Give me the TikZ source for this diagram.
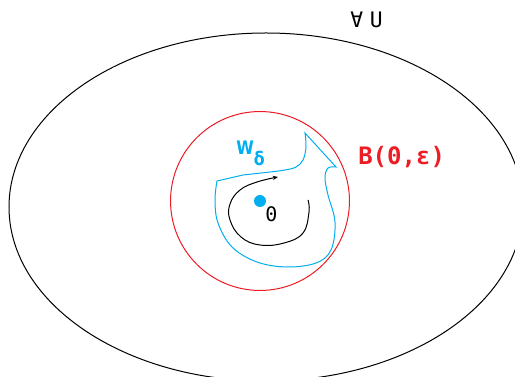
\documentclass[tikz,border=0pt]{standalone}
\usepackage{fontspec}
\usepackage{tikz}
\usetikzlibrary{arrows.meta, positioning}
\setmonofont{DejaVu Sans Mono}
\setsansfont{DejaVu Sans}
\newfontfamily\condsans[FakeStretch=0.85]{DejaVu Sans}
\definecolor{ballred}{HTML}{ED1C24}
\definecolor{wblue}{HTML}{00AEEF}

\begin{document}
\begin{tikzpicture}[
  x=0.75pt, y=-0.75pt,
  region/.style={draw=black, line width=0.75pt},
  ball/.style={draw=ballred, line width=0.75pt},
  wline/.style={draw=wblue, line width=0.75pt, line join=miter},
  flow/.style={-{Stealth[length=4pt, width=3.2pt]}, line width=0.75pt},
  pt/.style={circle, fill=wblue, inner sep=0pt, minimum size=9pt},
  lbl/.style={inner sep=0pt, font=\ttfamily}
]
\clip (0,0) rectangle (515,377);

% neighbourhood U and the ball
\draw[region] (266,207) ellipse [x radius=192.75pt, y radius=130.5pt];
\draw[ball] (260,201) circle [radius=67.1pt];

% the set W_delta
\draw[wline] plot[smooth, tension=0.6] coordinates {(217,181) (215,200) (218,223) (232,247) (257,262) (287,267) (316,263) (331,250) (335,222) (328,195) (325,178) (328,168) (336,167)}
  -- (305,133)
  -- plot[smooth, tension=0.6] coordinates {(305,133) (306,147) (303,160) (296,167) (285,170) (270,172) (243,175)}
  -- cycle;

% trajectory
\draw[flow] plot[smooth, tension=0.7] coordinates {(308,200) (309,212) (303,233) (284,243) (260,245) (241,237) (230,220) (230,204) (240,190) (257,182) (278,177)};

\node[pt] (origin) at (260,201) {};
\node[lbl, font=\ttfamily\fontsize{15}{15}\selectfont] (zero) at (271.5,214.5) {0};

\node[lbl, anchor=base west, font=\ttfamily\fontsize{16}{16}\selectfont] (univ) at (350,28) {∀\kern5pt U};
\node[lbl, anchor=base west, text=ballred, font=\ttfamily\bfseries\fontsize{18}{18}\selectfont] (balllbl) at (358,165) {B(0,ε)};
\node[lbl, anchor=base west, text=wblue, font=\condsans\bfseries\fontsize{14}{14}\selectfont] (wlbl) at (236,155) {W\raisebox{-8pt}{δ}};
\end{tikzpicture}
\end{document}
